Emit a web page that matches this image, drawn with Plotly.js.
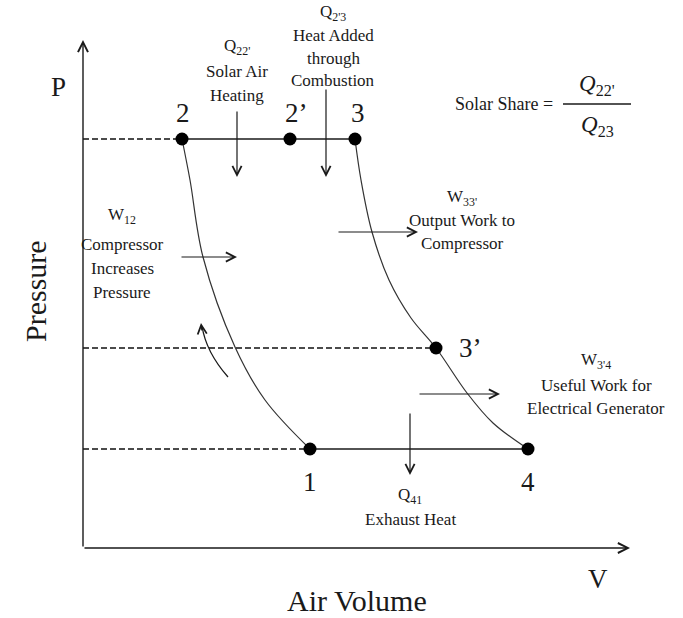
<!DOCTYPE html>
<html>
<head>
<meta charset="utf-8">
<script src="https://cdn.plot.ly/plotly-3.0.1.min.js"></script>
<style>html,body{margin:0;padding:0;background:#fff;}#chart{width:683px;height:618px;}</style>
</head>
<body>
<div id="chart"></div>
<script>
// ---- Data (arbitrary V / P units) ----
const stateLabels = ['1', '2', '2’', '3', '3’', '4'];
const stateV = [4.54, 1.98, 4.14, 5.44, 7.06, 8.90];
const stateP = [1.98, 8.18, 8.18, 8.18, 4.00, 1.98];

// Compression 1 -> 2
const compV = [4.54, 3.64, 3.04, 2.40, 2.14, 1.98];
const compP = [1.98, 2.96, 4.02, 5.82, 7.36, 8.18];

// Expansion 3 -> 3' -> 4
const expV = [5.44, 5.56, 5.78, 6.12, 6.56, 7.06, 7.68, 8.20, 8.90];
const expP = [8.18, 7.36, 6.32, 5.36, 4.60, 4.00, 3.10, 2.50, 1.98];

// ---- helpers: pixel position -> axis units (for layout placement only) ----
const X = px => (px - 83) / 50;
const Y = py => (548 - py) / 50;

const FONT = 'Liberation Serif, Times New Roman, serif';
const INK = '#1a1a1a';
const idx = l => stateLabels.indexOf(l);

const traces = [];

// dashed pressure reference lines for 2, 3', 1
['2', '3’', '1'].forEach(l => {
  const i = idx(l);
  traces.push({x: [0, stateV[i]], y: [stateP[i], stateP[i]], mode: 'lines',
    line: {color: '#111', width: 1.3, dash: '6px,3px'}, hoverinfo: 'skip'});
});
// constant-pressure lines 2 -> 3 and 1 -> 4
traces.push({x: [stateV[idx('2')], stateV[idx('3')]], y: [stateP[idx('2')], stateP[idx('3')]],
  mode: 'lines', line: {color: INK, width: 1.6}});
traces.push({x: [stateV[idx('1')], stateV[idx('4')]], y: [stateP[idx('1')], stateP[idx('4')]],
  mode: 'lines', line: {color: INK, width: 1.6}});
// curves
traces.push({x: compV, y: compP, mode: 'lines', line: {color: '#333', width: 1.2, shape: 'spline', smoothing: 1}});
traces.push({x: expV, y: expP, mode: 'lines', line: {color: '#333', width: 1.2, shape: 'spline', smoothing: 1}});
// state points
traces.push({x: stateV, y: stateP, mode: 'markers', marker: {color: '#000', size: 13}});

const ann = [];
function txt(xp, yp, text, size, extra) {
  ann.push(Object.assign({x: X(xp), y: Y(yp), xref: 'x', yref: 'y', text: text, showarrow: false,
    font: {family: FONT, size: size, color: INK}, xanchor: 'center', yanchor: 'middle'}, extra || {}));
}
function arrow(x0, y0, x1, y1, w, s) {
  ann.push({x: X(x1), y: Y(y1), ax: X(x0), ay: Y(y0), xref: 'x', yref: 'y', axref: 'x', ayref: 'y',
    text: '', showarrow: true, arrowhead: 5, arrowsize: s || 1.5, arrowwidth: w || 1.2,
    arrowcolor: INK, standoff: 0, startstandoff: 0});
}

// axes
arrow(83, 548, 83, 40, 1.4, 1.4);
arrow(83, 548, 630, 548, 1.4, 1.4);
txt(58, 87, 'P', 27);
txt(598, 579, 'V', 27);
txt(357, 600, 'Air Volume', 30);
txt(35, 291, 'Pressure', 30, {textangle: -90});

// state labels
const labelOffset = {'1': [0, -33], '2': [1, 26], '2’': [6, 26], '3': [3, 26], '3’': [34, 0], '4': [0, -33]};
stateLabels.forEach((l, i) => {
  ann.push({x: stateV[i], y: stateP[i], xref: 'x', yref: 'y', text: l, showarrow: false,
    xshift: labelOffset[l][0], yshift: labelOffset[l][1],
    font: {family: FONT, size: 27, color: INK}});
});

// text blocks
function block(cx, lines) { lines.forEach(([t, y]) => txt(cx, y, t, 17)); }
block(237, [["Q<sub>22'</sub>", 47], ['Solar Air', 71], ['Heating', 95]]);
block(333, [["Q<sub>2'3</sub>", 13], ['Heat Added', 35], ['through', 58], ['Combustion', 80]]);
block(122, [['W<sub>12</sub>', 216], ['Compressor', 244], ['Increases', 268], ['Pressure', 292]]);
block(462, [["W<sub>33'</sub>", 198], ['Output Work to', 220], ['Compressor', 243]]);
block(596, [["W<sub>3'4</sub>", 361], ['Useful Work for', 385], ['Electrical Generator', 408]]);
block(410, [['Q<sub>41</sub>', 496], ['Exhaust Heat', 519]]);

// process arrows
arrow(237, 110, 237, 177);
arrow(326, 88, 326, 177);
arrow(180, 257, 237, 257);
arrow(337, 232, 418, 232);
arrow(418, 394, 500, 394);
arrow(410, 412, 410, 475);
// curved arrow head
arrow(202, 332, 201, 323);

// solar share formula
txt(555, 104, 'Solar Share =', 18, {xanchor: 'right'});
txt(597, 85, "<i>Q</i><sub>22'</sub>", 23);
txt(597, 126, '<i>Q</i><sub>23</sub>', 23);

const shapes = [
  {type: 'line', xref: 'x', yref: 'y', x0: X(563), x1: X(631), y0: Y(104), y1: Y(104),
   line: {color: INK, width: 1.3}},
  {type: 'path', xref: 'x', yref: 'y',
   path: `M ${X(228)},${Y(377)} Q ${X(206)},${Y(352)} ${X(202)},${Y(326)}`,
   line: {color: INK, width: 1.3}}
];

const layout = {
  width: 683, height: 618,
  margin: {l: 0, r: 0, t: 0, b: 0},
  paper_bgcolor: '#fff', plot_bgcolor: '#fff',
  showlegend: false,
  xaxis: {range: [X(0), X(683)], visible: false, fixedrange: true},
  yaxis: {range: [Y(618), Y(0)], visible: false, fixedrange: true},
  annotations: ann,
  shapes: shapes
};

Plotly.newPlot('chart', traces, layout, {staticPlot: true, displayModeBar: false});
</script>
</body>
</html>
